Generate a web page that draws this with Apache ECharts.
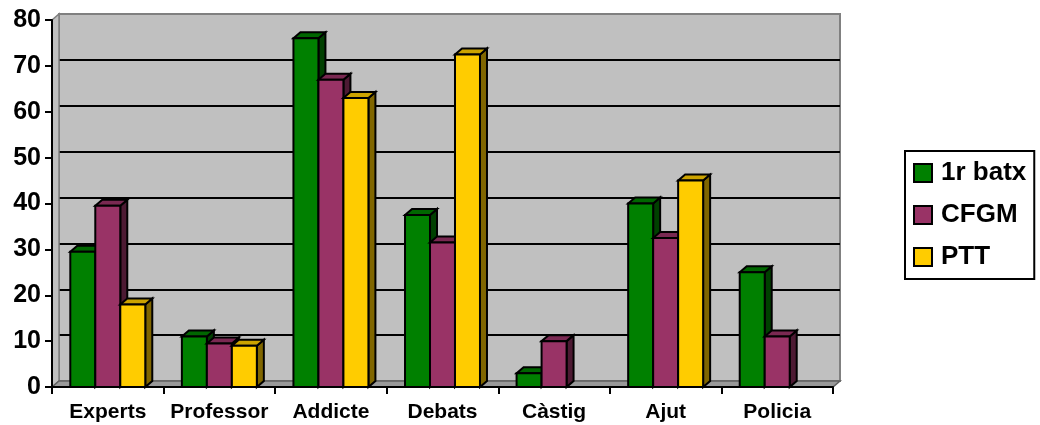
<!DOCTYPE html>
<html>
<head>
<meta charset="utf-8">
<script src="https://cdn.jsdelivr.net/npm/echarts@6/dist/echarts.min.js"></script>
<style>html,body{margin:0;padding:0;background:#fff}#c{width:1040px;height:425px}</style>
</head>
<body>
<div id="c"></div>
<script>
const categories = ['Experts', 'Professor', 'Addicte', 'Debats', 'Càstig', 'Ajut', 'Policia'];
const seriesNames = ['1r batx', 'CFGM', 'PTT'];
const batx = [29.5, 11, 76, 37.5, 3, 40, 25];
const cfgm = [39.5, 9.5, 67, 31.5, 10, 32.5, 11];
const ptt = [18, 9, 63, 72.5, null, 45, null];
const yTicks = [0, 10, 20, 30, 40, 50, 60, 70, 80];

const palettes = [
  { front: '#008000', top: '#006600', side: '#004000' },
  { front: '#993366', top: '#7a2952', side: '#4d1a33' },
  { front: '#FFCC00', top: '#CCA300', side: '#806600' }
];
const FONT = 'Liberation Sans, Arial, sans-serif';
const DX = 7, DY = -6;

function renderer(idx) {
  const pal = palettes[idx];
  return function (params, api) {
    const cat = api.value(0), v = api.value(1);
    if (v == null || isNaN(v)) return null;
    const base = api.coord([cat, 0]);
    const top = api.coord([cat, v]);
    const band = api.size([1, 0])[0];
    const w = band * 0.224;
    const x0 = base[0] + (idx - 1.5) * w;
    const x1 = x0 + w;
    const yT = top[1], yB = base[1];
    const st = (f) => ({ fill: f, stroke: '#000', lineWidth: 2, lineJoin: 'miter' });
    return {
      type: 'group',
      children: [
        { type: 'polygon', shape: { points: [[x1, yT], [x1 + DX, yT + DY], [x1 + DX, yB + DY], [x1, yB]] }, style: st(pal.side) },
        { type: 'polygon', shape: { points: [[x0, yT], [x0 + DX, yT + DY], [x1 + DX, yT + DY], [x1, yT]] }, style: st(pal.top) },
        { type: 'rect', shape: { x: x0, y: yT, width: w, height: yB - yT }, style: st(pal.front) }
      ]
    };
  };
}

const allData = [batx, cfgm, ptt];
const series = allData.map((arr, i) => ({
  name: seriesNames[i],
  type: 'custom',
  xAxisIndex: 0,
  yAxisIndex: 0,
  z: 3,
  renderItem: renderer(i),
  encode: { x: 0, y: 1 },
  itemStyle: { color: palettes[i].front, borderColor: '#000', borderWidth: 2 },
  data: arr.map((v, k) => [k, v == null ? '-' : v])
}));

const chart = echarts.init(document.getElementById('c'), null, { renderer: 'canvas' });
chart.setOption({
  backgroundColor: '#fff',
  animation: false,
  grid: [
    { left: 52, right: 207, top: 20, bottom: 38, show: false },
    { left: 59, right: 200, top: 14, bottom: 44, show: true, backgroundColor: '#C0C0C0', borderColor: '#808080', borderWidth: 2, z: 0 }
  ],
  graphic: [
    { type: 'polygon', z: 1, shape: { points: [[52, 20], [59, 14], [59, 381], [52, 387]] }, style: { fill: '#C0C0C0', stroke: '#808080', lineWidth: 1.5 } },
    { type: 'polygon', z: 1, shape: { points: [[52, 387], [59, 381], [840, 381], [833, 387]] }, style: { fill: '#999999', stroke: '#606060', lineWidth: 1.5 } }
  ],
  xAxis: [
    {
      type: 'category', gridIndex: 0, data: categories, z: 10,
      axisLine: { lineStyle: { color: '#000', width: 2 } },
      axisTick: { show: true, length: 7, lineStyle: { color: '#000', width: 2 } },
      axisLabel: { interval: 0, color: '#000', fontFamily: FONT, fontWeight: 'bold', fontSize: 21, margin: 15 },
      splitLine: { show: false }
    },
    {
      type: 'category', gridIndex: 1, data: categories, show: true,
      axisLine: { show: false }, axisTick: { show: false }, axisLabel: { show: false }, splitLine: { show: false }
    }
  ],
  yAxis: [
    {
      type: 'value', gridIndex: 0, min: 0, max: 80, interval: 10, z: 10,
      axisLine: { show: true, lineStyle: { color: '#000', width: 2 } },
      axisTick: { show: true, length: 7, lineStyle: { color: '#000', width: 2 } },
      axisLabel: { color: '#000', fontFamily: FONT, fontWeight: 'bold', fontSize: 25, margin: 11,
        formatter: (v) => (yTicks.indexOf(v) >= 0 ? String(v) : '') },
      splitLine: { show: false }
    },
    {
      type: 'value', gridIndex: 1, min: 0, max: 80, interval: 10,
      axisLine: { show: false }, axisTick: { show: false }, axisLabel: { show: false },
      splitLine: { show: true, showMinLine: false, showMaxLine: false, lineStyle: { color: '#000', width: 2 } }
    }
  ],
  legend: {
    orient: 'vertical',
    left: 905, top: 151,
    padding: [7, 8, 7, 8],
    itemGap: 12,
    itemWidth: 18, itemHeight: 18,
    icon: 'rect',
    borderColor: '#000', borderWidth: 2,
    backgroundColor: '#fff',
    itemStyle: { borderColor: '#000', borderWidth: 2 },
    textStyle: { color: '#000', fontFamily: FONT, fontWeight: 'bold', fontSize: 26, lineHeight: 30, padding: [0, 0, 0, 4] },
    data: seriesNames
  },
  series: series
});
</script>
</body>
</html>
